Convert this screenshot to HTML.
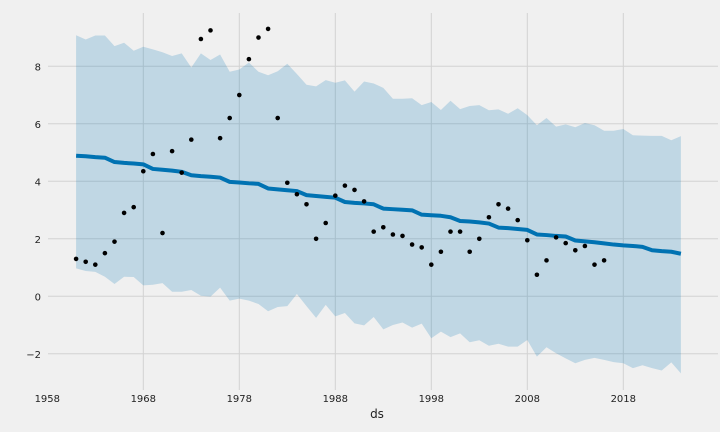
<!DOCTYPE html>
<html><head><meta charset="utf-8">
<style>
html,body{margin:0;padding:0;background:#f0f0f0;}
svg{display:block;font-family:"DejaVu Sans","Liberation Sans",sans-serif;}
</style></head>
<body>
<svg id="chart" width="720" height="432" viewBox="0 0 720 432" xmlns="http://www.w3.org/2000/svg">
<rect width="720" height="432" fill="#f0f0f0"/>
<g id="grid"></g>
<g id="band"></g>
<g id="trend"></g>
<g id="points"></g>
<g id="axes"></g>
<text x="377" y="418" text-anchor="middle" font-size="12" fill="#222">ds</text>
</svg>
<script>
const obsYears = [1961,1962,1963,1964,1965,1966,1967,1968,1969,1970,1971,1972,1973,1974,1975,1976,1977,1978,1979,1980,1981,1982,1983,1984,1985,1986,1987,1988,1989,1990,1991,1992,1993,1994,1995,1996,1997,1998,1999,2000,2001,2002,2003,2004,2005,2006,2007,2008,2009,2010,2011,2012,2013,2014,2015,2016];
const obsValues = [1.3,1.2,1.1,1.5,1.9,2.9,3.1,4.35,4.95,2.2,5.05,4.3,5.45,8.95,9.25,5.5,6.2,7.0,8.25,9.0,9.3,6.2,3.95,3.55,3.2,2.0,2.55,3.5,3.85,3.7,3.3,2.25,2.4,2.15,2.1,1.8,1.7,1.1,1.55,2.25,2.25,1.55,2.0,2.75,3.2,3.05,2.65,1.95,0.75,1.25,2.05,1.85,1.6,1.75,1.1,1.25];
const fcStartYear = 1961;
const yhat = [4.89,4.87,4.84,4.82,4.67,4.64,4.62,4.59,4.43,4.40,4.37,4.33,4.21,4.18,4.16,4.13,3.98,3.96,3.93,3.91,3.75,3.72,3.69,3.66,3.52,3.49,3.46,3.43,3.28,3.25,3.23,3.20,3.05,3.03,3.01,2.99,2.84,2.82,2.80,2.75,2.62,2.60,2.57,2.53,2.39,2.37,2.34,2.31,2.15,2.13,2.10,2.08,1.94,1.91,1.88,1.84,1.80,1.77,1.75,1.72,1.60,1.57,1.55,1.48];
const yhatUpper = [9.08,8.93,9.07,9.07,8.70,8.82,8.54,8.68,8.59,8.49,8.36,8.45,7.96,8.45,8.22,8.41,7.81,7.89,8.13,7.81,7.69,7.83,8.09,7.73,7.36,7.30,7.52,7.43,7.51,7.12,7.47,7.40,7.25,6.87,6.87,6.89,6.65,6.76,6.48,6.80,6.51,6.62,6.65,6.47,6.50,6.35,6.54,6.30,5.95,6.20,5.90,5.98,5.88,6.03,5.95,5.76,5.76,5.82,5.60,5.59,5.58,5.58,5.43,5.57];
const yhatLower = [0.97,0.88,0.85,0.68,0.43,0.68,0.67,0.38,0.40,0.46,0.16,0.16,0.22,0.02,-0.01,0.30,-0.15,-0.08,-0.15,-0.27,-0.52,-0.37,-0.34,0.08,-0.34,-0.75,-0.30,-0.70,-0.58,-0.94,-1.01,-0.72,-1.15,-1.00,-0.91,-1.09,-0.95,-1.46,-1.23,-1.42,-1.29,-1.60,-1.53,-1.72,-1.65,-1.75,-1.75,-1.52,-2.10,-1.77,-1.98,-2.16,-2.33,-2.21,-2.14,-2.21,-2.29,-2.33,-2.50,-2.40,-2.50,-2.58,-2.30,-2.68];
const xTicks = [1958,1968,1978,1988,1998,2008,2018];
const yTicks = [-2,0,2,4,6,8];

const NS = "http://www.w3.org/2000/svg";
const L = 48, R = 718, T = 13, B = 390;
function xs(yr){ return 47.3 + (yr - 1958) * 9.6; }
function ys(v){ return 296.3 - v * 28.75; }
function mk(tag, attrs, parent){
  const e = document.createElementNS(NS, tag);
  for (const k in attrs) e.setAttribute(k, attrs[k]);
  parent.appendChild(e);
  return e;
}
const grid = document.getElementById('grid');
const axes = document.getElementById('axes');
yTicks.forEach(v => {
  const ln = mk('line', {x1:L, x2:R, y1:ys(v), y2:ys(v), stroke:'#d2d2d2', 'stroke-width':1}, grid);
  
  
  const t = mk('text', {x:41, y:ys(v)+4, 'text-anchor':'end', 'font-size':10, fill:'#222'}, axes);
  t.textContent = v < 0 ? '\u2212' + Math.abs(v) : String(v);
  
  
});
xTicks.forEach(yr => {
  if (yr !== 1958) {
    const ln = mk('line', {x1:xs(yr), x2:xs(yr), y1:T, y2:B, stroke:'#d2d2d2', 'stroke-width':1}, grid);
    
    
  }
  const t = mk('text', {x:xs(yr), y:402, 'text-anchor':'middle', 'font-size':10, fill:'#222'}, axes);
  t.textContent = String(yr);
  
  
});
// band
let d = '';
yhatUpper.forEach((v,i) => { d += (i ? 'L' : 'M') + xs(fcStartYear+i).toFixed(2) + ',' + ys(v).toFixed(2); });
for (let i = yhatLower.length-1; i >= 0; i--) d += 'L' + xs(fcStartYear+i).toFixed(2) + ',' + ys(yhatLower[i]).toFixed(2);
d += 'Z';
const band = mk('path', {d:d, fill:'#0072B2', 'fill-opacity':0.2}, document.getElementById('band'));


// trend
let pd = '';
yhat.forEach((v,i) => { pd += (i ? 'L' : 'M') + xs(fcStartYear+i).toFixed(2) + ',' + ys(v).toFixed(2); });
const tl = mk('path', {d:pd, fill:'none', stroke:'#0072B2', 'stroke-width':4, 'stroke-linejoin':'round'}, document.getElementById('trend'));


// points
const pg = document.getElementById('points');
obsYears.forEach((yr,i) => {
  const c = mk('circle', {cx:xs(yr), cy:ys(obsValues[i]), r:2.3, fill:'#000'}, pg);
  
  
});
</script>
</body></html>
